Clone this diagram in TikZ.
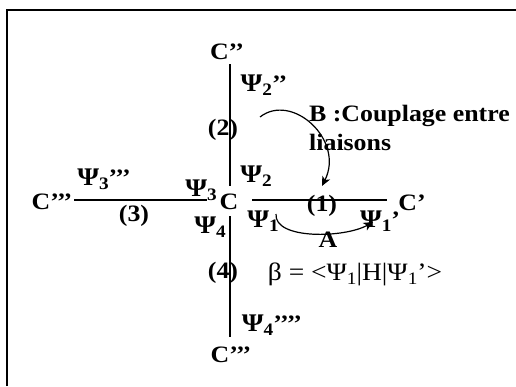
\documentclass[tikz,border=0pt]{standalone}
\usepackage{fontspec}
\setmainfont{Liberation Serif}[FakeStretch=1.1]
\usetikzlibrary{arrows.meta}
\newcommand\ix[1]{\raisebox{-0.38ex}{\fontsize{17.5}{17}\selectfont #1}}
\newcommand\Ps{\scalebox{1.08}{Ψ}}
\tikzset{
  lbl/.style ={font=\fontsize{23.5}{29}\selectfont\bfseries,inner sep=0pt},
  txt/.style ={font=\fontsize{25}{29}\selectfont,inner sep=0pt},
  bond/.style={draw=black,line width=1.3pt},
  arr/.style ={-{Stealth[length=3.3mm,width=3mm,inset=0.9mm]},draw=black,line width=1.2pt},
  frm/.style ={draw=black,line width=2pt},
}
\begin{document}
\begin{tikzpicture}[x=1pt,y=-1pt]
\useasboundingbox (0,0) rectangle (516,386);
% frame, only its left and top sides are inside the picture
\draw[frm] (7,386) -- (7,10) -- (516,10);

% atoms
\node[lbl] (C)   at (229,202) {C};
\node[lbl] (Cb)  at (227,52)  {C’’};
\node[lbl] (Cc)  at (52,202)  {C’’’};
\node[lbl] (Cd)  at (231,355) {C’’’};
\node[lbl] (Ca)  at (412,203) {C’};

% bond ends
\coordinate (b1l) at (252,200); \coordinate (b1r) at (387,200);
\coordinate (b2t) at (230,64);  \coordinate (b2b) at (230,186);
\coordinate (b3l) at (74,200);  \coordinate (b3r) at (207,200);
\coordinate (b4t) at (230,216); \coordinate (b4b) at (230,337);
\draw[bond] (b1l) -- (b1r);
\draw[bond] (b2t) -- (b2b);
\draw[bond] (b3l) -- (b3r);
\draw[bond] (b4t) -- (b4b);

% bond numbers
\node[lbl] (n1) at (322,206) {(1)};
\node[lbl] (n2) at (223,130) {(2)};
\node[lbl] (n3) at (134,216) {(3)};
\node[lbl] (n4) at (223,273) {(4)};

% orbitals
\node[lbl] (p1)   at (263,221) {\Ps\ix{1}};
\node[lbl] (p1p)  at (380,221) {\Ps\ix{1}’};
\node[lbl] (p2)   at (256,176) {\Ps\ix{2}};
\node[lbl] (p2p)  at (264,85)  {\Ps\ix{2}’’};
\node[lbl] (p3)   at (201,190) {\Ps\ix{3}};
\node[lbl] (p3p)  at (104,179) {\Ps\ix{3}’’’};
\node[lbl] (p4)   at (210,227) {\Ps\ix{4}};
\node[lbl] (p4p)  at (272,325) {\Ps\ix{4}’’’’};

% couplings
\coordinate (aS) at (276,214); \coordinate (aE) at (373,222);
\draw[arr] (aS) .. controls (274,240) and (345,238) .. (aE);
\node[lbl] (A) at (328,240) {A};
\coordinate (bS) at (260,117); \coordinate (bE) at (322,186);
\draw[arr] (bS) .. controls (292,92) and (345,140) .. (bE);
\node[lbl,align=left,anchor=north west] (B) at (309,105)
  {B :Couplage entre\\liaisons};

\node[txt] (beta) at (355,274) {β = <Ψ\ix{1}|H|Ψ\ix{1}’>};
\end{tikzpicture}
\end{document}
